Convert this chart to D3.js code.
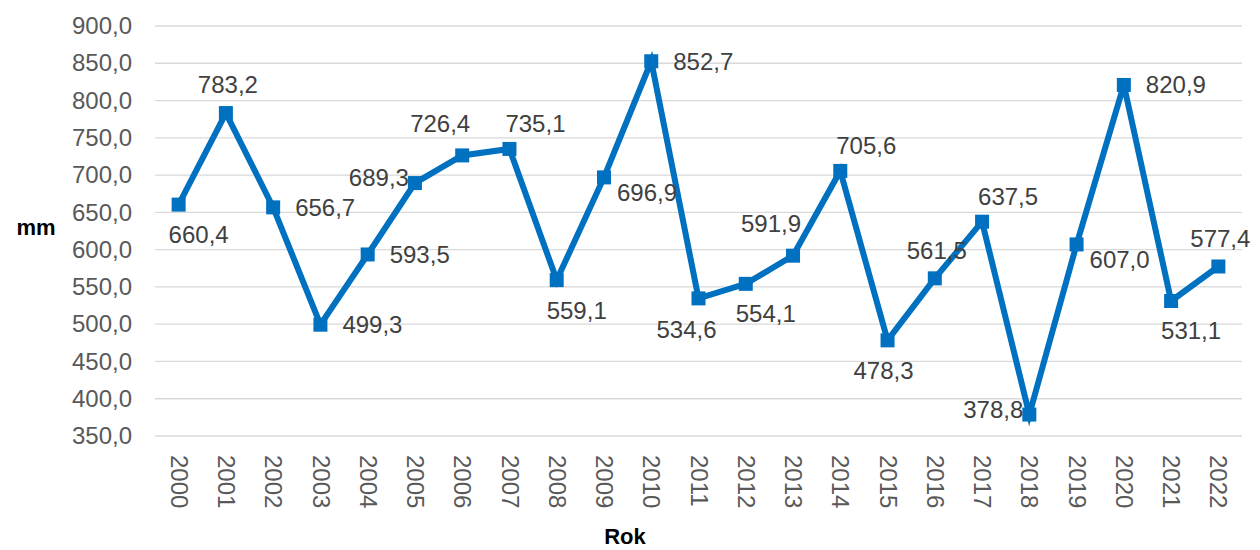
<!DOCTYPE html>
<html>
<head>
<meta charset="utf-8">
<script src="https://cdn.jsdelivr.net/npm/d3@7"></script>
<style>
  body { margin: 0; background: #fff; }
  text { font-family: "Liberation Sans", Arial, sans-serif; }
</style>
</head>
<body>
<svg id="chart" width="1260" height="550"></svg>
<script>
var years = ['2000', '2001', '2002', '2003', '2004', '2005', '2006', '2007', '2008', '2009', '2010', '2011',
  '2012', '2013', '2014', '2015', '2016', '2017', '2018', '2019', '2020', '2021', '2022'];
var rainfall = [660.4, 783.2, 656.7, 499.3, 593.5, 689.3, 726.4, 735.1, 559.1, 696.9, 852.7, 534.6,
  554.1, 591.9, 705.6, 478.3, 561.5, 637.5, 378.8, 607.0, 820.9, 531.1, 577.4];
var yTicks = [350, 400, 450, 500, 550, 600, 650, 700, 750, 800, 850, 900];
// where each data label sits around its marker
var labelPos = ['br', 'a', 'r', 'r', 'r', 'l', 'al', 'ar', 'br', 'rb', 'r', 'bl',
  'br', 'al', 'ar', 'b', 'a', 'ar', 'l', 'rb', 'r', 'br', 'a'];

var placement = {
  a:  { dx: 2,   dy: -28, anchor: 'middle' },
  al: { dx: -22, dy: -32, anchor: 'middle' },
  ar: { dx: 26,  dy: -25, anchor: 'middle' },
  b:  { dx: -4,  dy: 30,  anchor: 'middle' },
  bl: { dx: -12, dy: 31,  anchor: 'middle' },
  br: { dx: 20,  dy: 30,  anchor: 'middle' },
  r:  { dx: 22,  dy: 0,   anchor: 'start' },
  rb: { dx: 13,  dy: 15,  anchor: 'start' },
  l:  { dx: -6,  dy: -5,  anchor: 'end' }
};

var fmt = function (v) { return d3.format('.1f')(v).replace('.', ','); };

var svg = d3.select('svg#chart');

var x = d3.scalePoint()
  .domain(years)
  .range([155, 1242])
  .padding(0.5);

var y = d3.scaleLinear()
  .domain([350, 900])
  .range([436, 26]);

// gridlines
svg.append('g')
  .selectAll('line')
  .data(yTicks)
  .enter()
  .append('line')
    .attr('x1', 155)
    .attr('x2', 1242)
    .attr('y1', function (d) { return y(d); })
    .attr('y2', function (d) { return y(d); })
    .style('stroke', '#d9d9d9')
    .style('stroke-width', 1.3);

// y axis labels
var yAxis = svg.append('g')
  .attr('transform', 'translate(132,0)')
  .call(d3.axisLeft(y).tickValues(yTicks).tickSize(0).tickPadding(0).tickFormat(fmt));
yAxis.select('.domain').remove();
yAxis.selectAll('text')
  .style('font-size', '24px')
  .style('fill', '#595959')
  .style('font-family', '"Liberation Sans", Arial, sans-serif');

// x axis labels, rotated
var xAxis = svg.append('g')
  .attr('transform', 'translate(0,455)')
  .call(d3.axisBottom(x).tickSize(0).tickPadding(0));
xAxis.select('.domain').remove();
xAxis.selectAll('text')
  .attr('transform', 'rotate(90)')
  .attr('x', 0)
  .attr('y', 0)
  .attr('dy', '0.35em')
  .style('text-anchor', 'start')
  .style('font-size', '24px')
  .style('fill', '#595959')
  .style('font-family', '"Liberation Sans", Arial, sans-serif');

// line
var line = d3.line()
  .x(function (d, i) { return x(years[i]); })
  .y(function (d) { return y(d); });

svg.append('path')
  .datum(rainfall)
  .attr('d', line)
  .style('fill', 'none')
  .style('stroke', '#0070c0')
  .style('stroke-width', 6)
  .style('stroke-linejoin', 'miter');

// markers
svg.selectAll('rect.marker')
  .data(rainfall)
  .enter()
  .append('rect')
    .attr('class', 'marker')
    .attr('x', function (d, i) { return x(years[i]) - 7; })
    .attr('y', function (d) { return y(d) - 7; })
    .attr('width', 14)
    .attr('height', 14)
    .style('fill', '#0070c0');

// data labels
svg.selectAll('text.value')
  .data(rainfall)
  .enter()
  .append('text')
    .attr('class', 'value')
    .attr('x', function (d, i) { return x(years[i]) + placement[labelPos[i]].dx; })
    .attr('y', function (d, i) { return y(d) + placement[labelPos[i]].dy; })
    .attr('dy', '0.35em')
    .style('text-anchor', function (d, i) { return placement[labelPos[i]].anchor; })
    .style('font-size', '24px')
    .style('fill', '#404040')
    .text(fmt);

// axis titles
svg.append('text')
  .attr('x', 36)
  .attr('y', 235)
  .style('text-anchor', 'middle')
  .style('font-size', '22px')
  .style('font-weight', 'bold')
  .style('fill', '#000')
  .text('mm');

svg.append('text')
  .attr('x', 625)
  .attr('y', 544)
  .style('text-anchor', 'middle')
  .style('font-size', '22px')
  .style('font-weight', 'bold')
  .style('fill', '#000')
  .text('Rok');
</script>
</body>
</html>
